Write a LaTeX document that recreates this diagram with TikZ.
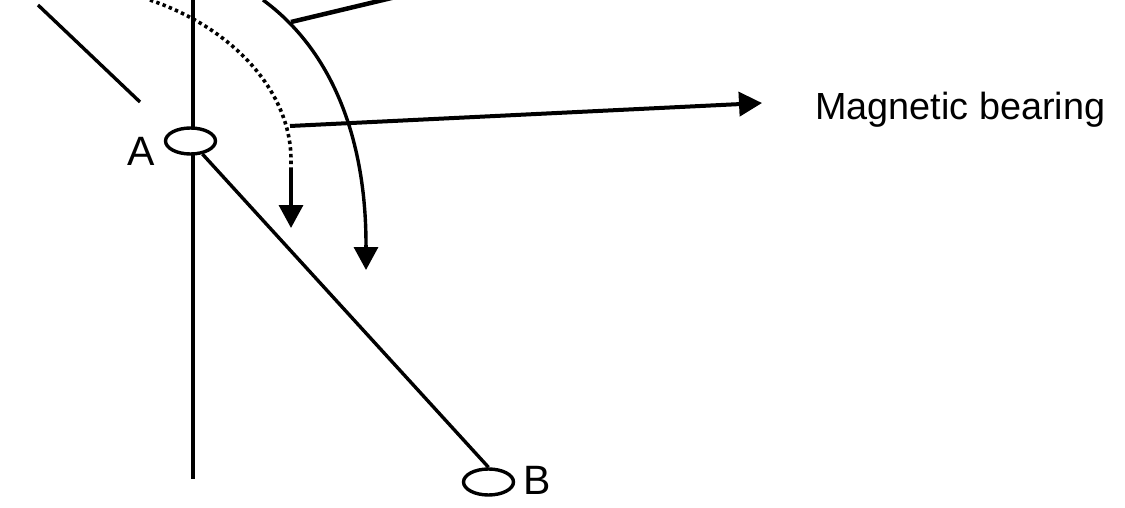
\documentclass[tikz,border=0pt]{standalone}
\usepackage{fontspec}
\setmainfont{Liberation Sans}
\usetikzlibrary{arrows.meta,shapes.geometric}
\tikzset{
  ln/.style={line width=3.4pt},
  stn/.style={ellipse, draw, line width=3.4pt, fill=white, inner sep=0pt},
  dotln/.style={line width=3.6pt, dash pattern=on 3.4pt off 3.3pt},
  tip/.style={-{Triangle[length=23pt,width=24pt]}},
  lbl/.style={inner sep=0pt, font=\fontsize{41}{44}\selectfont},
  txt/.style={inner sep=0pt, font=\fontsize{37.8}{40}\selectfont},
}
\begin{document}
\begin{tikzpicture}[x=1pt,y=-1pt]
\useasboundingbox (0,0) rectangle (1125,508);
\clip (0,0) rectangle (1125,508);
% coordinates
\coordinate (vtop) at (193,-10);
\coordinate (vbot) at (193,479);
\coordinate (s1) at (38,5);
\coordinate (s2) at (140,102);
\coordinate (d0) at (150,0);
\coordinate (d1) at (291,160);
\coordinate (d2) at (291,168);
\coordinate (d3) at (291,228);
\coordinate (c0) at (263,0);
\coordinate (c1) at (366,245);
\coordinate (c2) at (366,270);
\coordinate (t0) at (291,22);
\coordinate (t1) at (404,-5);
\coordinate (h0) at (290,126);
\coordinate (h1) at (762,103);
% vertical line
\draw[ln] (vtop) -- (vbot);
% upper-left segment
\draw[ln] (s1) -- (s2);
% dotted arc with arrow
\draw[dotln] (d0) .. controls (235,29) and (291,93) .. (d1) -- (d2);
\draw[ln, tip] (d2) -- (d3);
% solid arc with arrow
\draw[ln] (c0) .. controls (330,49) and (366,135) .. (c1);
\draw[ln, tip] (c1) -- (c2);
% short thick line
\draw[line width=4.5pt] (t0) -- (t1);
% horizontal arrow
\draw[line width=4pt, tip] (h0) -- (h1);
% stations
\node[stn, minimum width=50pt, minimum height=26pt] (A) at (190.5,141) {};
\node[stn, minimum width=50pt, minimum height=26pt] (B) at (488.5,482) {};
\draw[ln] (A) -- (B.north);
% labels
\node[lbl, anchor=base] (la) at (141.5,165) {A};
\node[lbl, anchor=base] (lb) at (537.5,494) {B};
\node[txt, anchor=base west] (mb) at (815,120) {Magnetic bearing};
\end{tikzpicture}
\end{document}
